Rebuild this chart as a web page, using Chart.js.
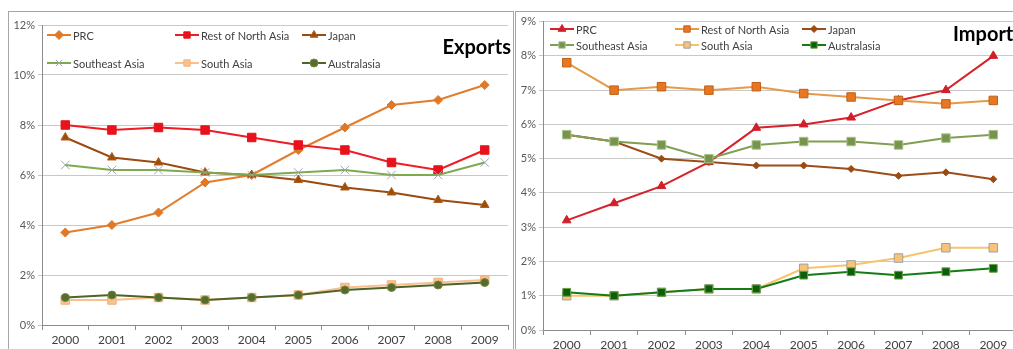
<!DOCTYPE html>
<html>
<head>
<meta charset="utf-8">
<script src="https://cdn.jsdelivr.net/npm/chart.js@4/dist/chart.umd.min.js"></script>
<style>
    html, body { margin: 0; padding: 0; background: #fff; width: 1013px; height: 349px; overflow: hidden; }
    #boxL { position: absolute; left: 8px; top: 11px; width: 506px; height: 345px; border: 1px solid #a6a6a6; box-sizing: border-box; }
    #boxR { position: absolute; left: 515px; top: 11px; width: 520px; height: 345px; border: 1px solid #a6a6a6; box-sizing: border-box; }
    #exports { position: absolute; left: 9px; top: 12px; }
    #imports { position: absolute; left: 516px; top: 12px; }
</style>
</head>
<body>
<div id="boxL"></div>
<div id="boxR"></div>
<canvas id="exports" width="506" height="337"></canvas>
<canvas id="imports" width="508" height="337"></canvas>
<script>
const years = ["2000", "2001", "2002", "2003", "2004", "2005", "2006", "2007", "2008", "2009"];
const seriesNames = ["PRC", "Rest of North Asia", "Japan", "Southeast Asia", "South Asia", "Australasia"];

// Exports, % share
const expPRC = [3.7, 4.0, 4.5, 5.7, 6.0, 7.0, 7.9, 8.8, 9.0, 9.6];
const expRestNorthAsia = [8.0, 7.8, 7.9, 7.8, 7.5, 7.2, 7.0, 6.5, 6.2, 7.0];
const expJapan = [7.5, 6.7, 6.5, 6.1, 6.0, 5.8, 5.5, 5.3, 5.0, 4.8];
const expSoutheastAsia = [6.4, 6.2, 6.2, 6.1, 6.0, 6.1, 6.2, 6.0, 6.0, 6.5];
const expSouthAsia = [1.0, 1.0, 1.1, 1.0, 1.1, 1.2, 1.5, 1.6, 1.7, 1.8];
const expAustralasia = [1.1, 1.2, 1.1, 1.0, 1.1, 1.2, 1.4, 1.5, 1.6, 1.7];

// Imports, % share
const impPRC = [3.2, 3.7, 4.2, 4.9, 5.9, 6.0, 6.2, 6.7, 7.0, 8.0];
const impRestNorthAsia = [7.8, 7.0, 7.1, 7.0, 7.1, 6.9, 6.8, 6.7, 6.6, 6.7];
const impJapan = [5.7, 5.5, 5.0, 4.9, 4.8, 4.8, 4.7, 4.5, 4.6, 4.4];
const impSoutheastAsia = [5.7, 5.5, 5.4, 5.0, 5.4, 5.5, 5.5, 5.4, 5.6, 5.7];
const impSouthAsia = [1.0, 1.0, 1.1, 1.2, 1.2, 1.8, 1.9, 2.1, 2.4, 2.4];
const impAustralasia = [1.1, 1.0, 1.1, 1.2, 1.2, 1.6, 1.7, 1.6, 1.7, 1.8];

const expTicks = { min: 0, max: 12, step: 2 };
const impTicks = { min: 0, max: 9, step: 1 };

const FONT = "Lato, 'Open Sans', sans-serif";

// legend drawn inside the plot area, Excel style
const insideLegend = {
    id: "insideLegend",
    afterDraw(chart, args, opts) {
        const ctx = chart.ctx;
        ctx.save();
        chart.data.datasets.forEach((ds, i) => {
            const x = opts.cols[i % 3];
            const y = opts.rows[Math.floor(i / 3)];
            ctx.strokeStyle = ds.borderColor;
            ctx.lineWidth = 2;
            ctx.beginPath();
            ctx.moveTo(x, y);
            ctx.lineTo(x + 24, y);
            ctx.stroke();
            ctx.fillStyle = ds.pointBackgroundColor;
            ctx.strokeStyle = ds.pointBorderColor;
            ctx.lineWidth = 1;
            if (Chart.helpers && Chart.helpers.drawPoint) {
                Chart.helpers.drawPoint(ctx, {
                    pointStyle: ds.pointStyle,
                    radius: Math.min(ds.pointRadius, 4.5),
                    borderWidth: 1,
                    rotation: 0
                }, x + 12, y);
            }
            ctx.fillStyle = "#404040";
            ctx.font = "11px " + FONT;
            ctx.textBaseline = "middle";
            ctx.textAlign = "left";
            ctx.fillText(seriesNames[i], x + 26, y + 1);
        });
        ctx.font = "bold 20px " + FONT;
        ctx.fillStyle = "#000";
        ctx.textAlign = opts.titleAlign;
        ctx.textBaseline = "middle";
        ctx.fillText(opts.title, opts.titleX, opts.titleY);
        ctx.restore();
    }
};

function makeSeries(values, color, style, radius, fill, border) {
    return {
        data: values,
        borderColor: color,
        borderWidth: 2,
        pointStyle: style,
        pointRadius: radius,
        pointBackgroundColor: fill,
        pointBorderColor: border,
        pointBorderWidth: 1,
        tension: 0
    };
}

function buildChart(id, datasets, ticks, axisW, axisH, padTop, legendOpts) {
    datasets.forEach((d, i) => { d.order = -i; });
    return new Chart(document.getElementById(id), {
        type: "line",
        data: { labels: years, datasets: datasets },
        options: {
            responsive: false,
            animation: false,
            layout: { padding: { top: padTop, left: 0, right: 0, bottom: 0 } },
            plugins: {
                legend: { display: false },
                tooltip: { enabled: false },
                insideLegend: legendOpts
            },
            scales: {
                x: {
                    offset: true,
                    grid: { offset: true, drawOnChartArea: false, tickLength: 5, color: "#8c8c8c" },
                    border: { color: "#8c8c8c" },
                    ticks: { color: "#404040", font: { family: FONT, size: 12 }, padding: 3, maxRotation: 0 },
                    afterFit(s) { s.height = axisH; }
                },
                y: {
                    min: ticks.min,
                    max: ticks.max,
                    grid: { color: "#c8c8c8", tickLength: 4 },
                    border: { color: "#8c8c8c" },
                    ticks: {
                        stepSize: ticks.step,
                        color: "#595959",
                        font: { family: FONT, size: 11 },
                        padding: 3,
                        callback: v => v + "%"
                    },
                    afterFit(s) { s.width = axisW; }
                }
            }
        },
        plugins: [insideLegend]
    });
}

buildChart("exports", [
    makeSeries(expPRC, "#e27d2c", "rectRot", 4.5, "#e0782a", "#e0782a"),
    makeSeries(expRestNorthAsia, "#ee1c25", "rect", 6, "#e8121c", "#e8121c"),
    makeSeries(expJapan, "#9a4b0f", "triangle", 5, "#9c4d06", "#b06020"),
    makeSeries(expSoutheastAsia, "#7daa4e", "crossRot", 6, "#a0a4b4", "#a0a4b4"),
    makeSeries(expSouthAsia, "#fac090", "rect", 6, "#fac090", "#f4b07a"),
    makeSeries(expAustralasia, "#4f6228", "circle", 4, "#556b2f", "#6e8b3d")
], expTicks, 33, 24, 13, {
    cols: [38, 166, 293], rows: [23, 51],
    title: "Exports", titleX: 502, titleY: 36, titleAlign: "right"
});

buildChart("imports", [
    makeSeries(impPRC, "#d6232b", "triangle", 5, "#d01f2b", "#d01f2b"),
    makeSeries(impRestNorthAsia, "#e59a4a", "rect", 6, "#e87722", "#c0601a"),
    makeSeries(impJapan, "#9b4d1a", "rectRot", 3.5, "#9c4a10", "#9c4a10"),
    makeSeries(impSoutheastAsia, "#7f9f52", "rect", 6, "#77934c", "#a9c48c"),
    makeSeries(impSouthAsia, "#f7c36b", "rect", 6, "#f7c37a", "#a0a0a0"),
    makeSeries(impAustralasia, "#167a16", "rect", 5.5, "#0b5f0b", "#6aa040")
], impTicks, 27, 19, 7, {
    cols: [34, 159, 286], rows: [17, 33],
    title: "Imports", titleX: 437, titleY: 23, titleAlign: "left"
});
</script>
</body>
</html>
